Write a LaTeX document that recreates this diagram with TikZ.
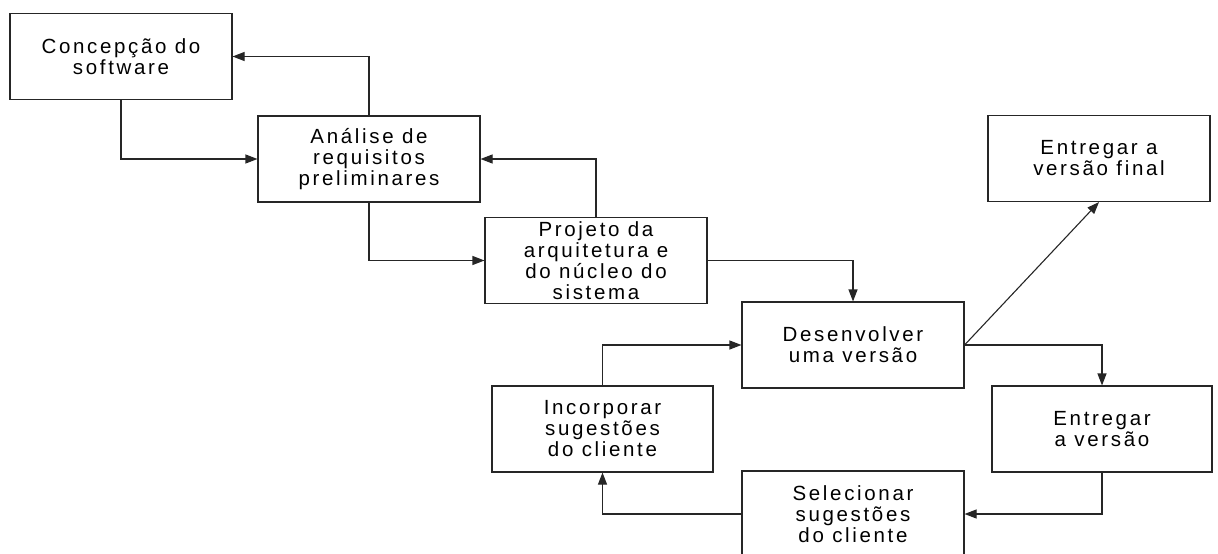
\documentclass[tikz,border=0pt]{standalone}
\usepackage{fontspec}
\setmainfont{Liberation Sans}[LetterSpace=13]
\usetikzlibrary{arrows.meta}
\begin{document}
\begin{tikzpicture}[x=1pt,y=-1pt,
  stage/.style={draw=black!85, line width=1.1pt, fill=white, rectangle,
    minimum width=222pt, minimum height=86pt, inner sep=0pt, align=center,
    font=\fontsize{20.5}{21}\selectfont},
  flow/.style={draw=black!85, line width=1.1pt,
    -{Triangle[length=12pt,width=9pt]}}]
\useasboundingbox (0,0) rectangle (1218,554);
\begin{scope}
\clip (0,0) rectangle (1218,554);
% process stages
\node[stage] (conc) at (121,56.5) {Concepção do\\software};
\node[stage] (anal) at (369,159) {Análise de\\requisitos\\preliminares};
\node[stage] (proj) at (596,260.5) {Projeto da\\arquitetura e\\do núcleo do\\sistema};
\node[stage] (dese) at (853,345) {Desenvolver\\uma versão};
\node[stage] (fina) at (1099,158.5) {Entregar a\\versão final};
\node[stage, minimum width=220pt] (entr) at (1102,429) {Entregar\\a versão};
\node[stage] (sele) at (853,514) {Selecionar\\sugestões\\do cliente};
\node[stage, minimum width=221pt] (inco) at (602.5,429) {Incorporar\\sugestões\\do cliente};
% connectors
\draw[flow] (conc.south) |- (anal.west);
\draw[flow] (anal.north) |- (conc.east);
\draw[flow] (anal.south) |- (proj.west);
\draw[flow] (proj.north) |- (anal.east);
\draw[flow] (proj.east) -| (dese.north);
\draw[flow] (dese.east) -| (entr.north);
\draw[flow] (dese.east) -- (fina.south);
\draw[flow] (entr.south) |- (sele.east);
\draw[flow] (sele.west) -| (inco.south);
\draw[flow] (inco.north) |- (dese.west);
\end{scope}
\end{tikzpicture}
\end{document}
